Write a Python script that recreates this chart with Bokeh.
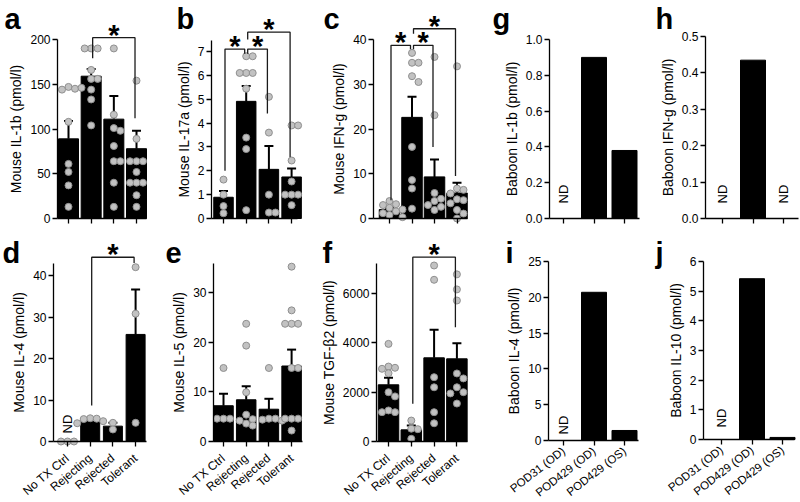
import numpy as np
from bokeh.plotting import figure
from bokeh.layouts import row, column
from bokeh.models import FixedTicker, Range1d, NumeralTickFormatter
from bokeh.core.properties import value
from bokeh.embed import file_html
from bokeh.resources import INLINE

# ---------------- data ----------------
mouse_groups = ["No TX Ctrl", "Rejecting", "Rejected", "Tolerant"]
baboon_groups = ["POD31 (OD)", "POD429 (OD)", "POD429 (OS)"]

# a  Mouse IL-1b
il1b_mean = [89, 159, 111, 78]
il1b_err = [109, 167, 137, 98]
il1b_pts = [[147, 145, 144, 146, 108, 61, 52, 37, 13],
            [190, 190, 190, 166, 156, 156, 144, 133, 104],
            [190, 116, 101, 98, 81, 64, 64, 40, 13],
            [154, 89, 64, 64, 64, 52, 40, 40, 40, 26, 13]]
il1b_ticks = [0, 50, 100, 150, 200]
il1b_sig = [(2, 4, 202, 179, 112)]

# b  Mouse IL-17a
il17a_mean = [0.89, 4.91, 2.06, 1.74]
il17a_err = [1.15, 5.55, 3.04, 2.10]
il17a_pts = [[1.63, 1.0, 0.52, 0.22],
             [6.8, 6.8, 6.1, 6.1, 6.1, 5.44, 3.39, 2.91, 0.35],
             [5.1, 3.6, 1.0, 0.25, 0.25],
             [3.9, 3.9, 2.43, 1.55, 1.0, 1.0, 1.0, 0.56]]
il17a_ticks = [0, 1, 2, 3, 4, 5, 6, 7]
il17a_sig = [(1, 2, 7.1, 2.0, 6.9), (2, 3, 7.1, 6.9, 4.4), (2, 4, 7.81, 7.5, 2.58)]

# c  Mouse IFN-g
ifng_mean = [2.0, 22.6, 9.3, 5.7]
ifng_err = [2.4, 27.2, 13.2, 8.0]
ifng_pts = [[3.9, 3.2, 3.0, 2.4, 2.0, 1.6, 1.2, 0.8, 0.3],
            [37.0, 34.8, 34.8, 31.8, 30.5, 16.0, 8.6, 6.7, 2.2],
            [36.1, 23.1, 5.7, 4.4, 3.9, 3.0, 2.6, 1.9],
            [34.0, 6.7, 6.4, 5.6, 4.3, 4.1, 3.4, 1.9, 1.1, 0.0]]
ifng_ticks = [0, 10, 20, 30, 40]
ifng_sig = [(1, 2, 38.7, 4.1, 37.8), (2, 3, 38.7, 37.8, 16.0), (2, 4, 42.4, 41.3, 9.5)]

# g  Baboon IL-1b  (None = ND)
bab_il1b = [None, 0.90, 0.38]
bab_il1b_ticks = [0, 0.2, 0.4, 0.6, 0.8, 1.0]

# h  Baboon IFN-g
bab_ifng = [None, 0.435, None]
bab_ifng_ticks = [0, 0.1, 0.2, 0.3, 0.4, 0.5]

# d  Mouse IL-4
il4_mean = [None, 4.8, 3.7, 25.8]
il4_err = [None, 5.4, 4.5, 36.6]
il4_pts = [[0, 0, 0],
           [5.6, 5.5, 5.4, 4.9, 4.4],
           [4.5, 2.9],
           [42.0, 30.8, 4.5]]
il4_ticks = [0, 10, 20, 30, 40]
il4_sig = [(2, 4, 44.4, 8.7, 43.0)]

# e  Mouse IL-5
il5_mean = [7.2, 8.4, 6.5, 15.2]
il5_err = [9.6, 11.1, 8.6, 18.5]
il5_pts = [[14.8, 4.6, 4.6, 4.6],
           [23.7, 19.3, 9.9, 5.4, 4.5, 4.2, 3.6, 3.2],
           [14.8, 4.6, 4.6, 4.4, 4.2],
           [35.2, 26.4, 23.7, 23.7, 23.7, 14.8, 14.8, 4.6, 4.6, 4.6, 2.2]]
il5_ticks = [0, 10, 20, 30]

# f  Mouse TGF-b2
tgfb2_mean = [2300, 473, 3395, 3354]
tgfb2_err = [2584, 650, 4530, 3990]
tgfb2_pts = [[3960, 3040, 2990, 2950, 2770, 2000, 1830, 1260, 1190, 1190],
             [850, 520, 500, 110],
             [7140, 6560, 2610, 2200, 1190, 740],
             [6780, 6170, 5720, 2760, 2560, 2200, 2000, 1950, 1540]]
tgfb2_ticks = [0, 2000, 4000, 6000]
tgfb2_sig = [(2, 4, 7477, 1528, 4637)]

# i  Baboon IL-4
bab_il4 = [None, 20.7, 1.4]
bab_il4_ticks = [0, 5, 10, 15, 20, 25]

# j  Baboon IL-10
bab_il10 = [None, 5.42, 0.07]
bab_il10_ticks = [0, 1, 2, 3, 4, 5, 6]

# ---------------- style / layout (pixel geometry of each panel) ----------------
FONT = "Liberation Sans"
MOUSE_XLAB = dict(size="12px", angle=0.70, standoff=10)
BABOON_XLAB = dict(size="11.5px", angle=0.66, standoff=4)


def swarm_offsets(vals, xppu, yppu, step=6.5):
    placed, offs = [], []
    cands = [0.0]
    for k in range(1, 8):
        cands += [k * step, -k * step]
    for v in vals:
        y = v * yppu
        chosen = cands[-1]
        for c in cands:
            if all((c - px) ** 2 + (y - py) ** 2 >= (step * 0.97) ** 2 for px, py in placed):
                chosen = c
                break
        placed.append((chosen, y))
        offs.append(chosen / xppu)
    return offs


def build(s):
    X0, X1, Y0, Y1 = s["rect"]
    t1, sp, zero, ppu = s["tick1"], s["sp"], s["zero"] - Y0, s["ppu"]

    # panel-relative pixel -> data
    def xd(px):
        return 1 + (px - t1) / sp

    def yd(py):
        return (zero - py) / ppu

    W, H = X1 - X0, Y1 - Y0
    p = figure(width=W, height=H, x_range=Range1d(xd(0), xd(W)),
               y_range=Range1d(yd(H), yd(0)), output_backend="svg",
               toolbar_location=None, title=None, min_border=0,
               min_border_left=0, min_border_right=0, min_border_top=0, min_border_bottom=0)
    p.outline_line_color = None
    p.xgrid.visible = False
    p.ygrid.visible = False
    p.background_fill_color = "white"
    p.border_fill_color = "white"

    cats = s["cats"]
    xs = list(range(1, len(cats) + 1))
    means = s["means"]

    bx = [x for x, m in zip(xs, means) if m is not None]
    bt = [m for m in means if m is not None]
    p.vbar(x=bx, top=bt, bottom=0, width=s["barpx"] / sp, fill_color="black", line_color="black")

    if s.get("errs"):
        trip = [(x, m, e) for x, m, e in zip(xs, means, s["errs"]) if m is not None and e is not None]
        ex = [t[0] for t in trip]
        e0 = [t[1] for t in trip]
        e1 = [t[2] for t in trip]
        cap = 4.5 / sp
        p.segment(x0=ex, y0=e0, x1=ex, y1=e1, line_color="black", line_width=2)
        p.segment(x0=[x - cap for x in ex], y0=e1, x1=[x + cap for x in ex], y1=e1,
                  line_color="black", line_width=2)

    nd_x = [x for x, m in zip(xs, means) if m is None]
    if nd_x:
        p.text(x=nd_x, y=[s["nd_lift"] / ppu] * len(nd_x), text=["ND"] * len(nd_x),
               angle=np.pi / 2, text_align="left", text_baseline="middle",
               text_font=value(FONT), text_font_size="13px", text_color="black")

    if s.get("pts"):
        px, py = [], []
        for x, vals in zip(xs, s["pts"]):
            offs = swarm_offsets(vals, sp, ppu)
            px += [x + o for o in offs]
            py += list(vals)
        p.scatter(x=px, y=py, size=7, marker="circle", fill_color="#c2c2c2",
                  line_color="#8f8f8f", line_width=1)

    for (i, j, top, yl, yr) in s.get("sig", []):
        xl = i + 1.5 / sp
        xr = j - 1.5 / sp
        p.line(x=[xl, xl, xr, xr], y=[yl, top, top, yr], line_color="#1a1a1a", line_width=1.3)
        p.text(x=[(xl + xr) / 2], y=[top + 3 / ppu], text=["*"], text_align="center",
               text_baseline="alphabetic", text_font=value(FONT),
               text_font_size="29px", text_font_style="bold", text_color="black")

    # panel letter
    lx, ly = s["letter_at"]
    p.text(x=[xd(lx)], y=[yd(ly - Y0)], text=[s["letter"]], text_align="left",
           text_baseline="alphabetic", text_font=value(FONT), text_font_size="29px",
           text_font_style="bold", text_color="black")

    ya = p.yaxis[0]
    ya.fixed_location = xd(s["axis_x"])
    ya.bounds = (0, s["ybound"])
    ya.ticker = FixedTicker(ticks=s["yticks"])
    if s.get("fmt"):
        ya.formatter = NumeralTickFormatter(format=s["fmt"])
    ya.axis_label = s["ylabel"]
    ya.axis_label_text_font = FONT
    ya.axis_label_text_font_size = "14px"
    ya.axis_label_text_font_style = "normal"
    ya.axis_label_text_color = "black"
    ya.axis_label_standoff = 3
    ya.major_label_text_font = FONT
    ya.major_label_text_font_size = "12px"
    ya.major_label_text_color = "black"
    ya.major_label_standoff = 2
    ya.major_tick_out = 5
    ya.major_tick_in = 0
    ya.minor_tick_line_color = None
    ya.axis_line_width = 1.3
    ya.major_tick_line_width = 1.3

    xa = p.xaxis[0]
    xa.fixed_location = 0
    xa.bounds = (xd(s["axis_x"]), xd(s["x_end"]))
    xa.axis_label = None
    xa.ticker = FixedTicker(ticks=xs)
    xa.major_tick_out = 5
    xa.major_tick_in = 0
    xa.minor_tick_line_color = None
    xa.axis_line_width = 1.3
    xa.major_tick_line_width = 1.3
    xa.major_label_text_font = FONT
    xa.major_label_text_color = "black"
    xl_style = s.get("xlab")
    if xl_style:
        xa.major_label_overrides = {x: c for x, c in zip(xs, cats)}
        xa.major_label_text_font_size = xl_style["size"]
        xa.major_label_orientation = xl_style["angle"]
        xa.major_label_standoff = xl_style["standoff"]
    else:
        xa.major_label_overrides = {x: "" for x in xs}
        xa.major_label_text_font_size = "12px"
        xa.major_label_standoff = 0
    return p


TOP = (0, 226)
BOT = (226, 502)

# rect = (left, right, top, bottom) on the page; axis_x/tick1/x_end panel-relative px,
# zero and letter_at y given as page px
specs_top = [
    dict(letter="a", cats=mouse_groups, means=il1b_mean, errs=il1b_err, pts=il1b_pts,
         ylabel="Mouse IL-1b (pmol/l)", yticks=il1b_ticks, ybound=200, sig=il1b_sig,
         rect=(0, 165) + TOP, axis_x=57, tick1=68, sp=22.67, zero=218, ppu=0.895,
         x_end=146, barpx=20, letter_at=(4, 18), nd_lift=10),
    dict(letter="b", cats=mouse_groups, means=il17a_mean, errs=il17a_err, pts=il17a_pts,
         ylabel="Mouse IL-17a (pmol/l)", yticks=il17a_ticks, ybound=7.45, sig=il17a_sig,
         rect=(165, 318) + TOP, axis_x=46, tick1=58, sp=22.7, zero=218, ppu=23.86,
         x_end=132, barpx=19.5, letter_at=(11, 18), nd_lift=10),
    dict(letter="c", cats=mouse_groups, means=ifng_mean, errs=ifng_err, pts=ifng_pts,
         ylabel="Mouse IFN-g (pmol/l)", yticks=ifng_ticks, ybound=40, sig=ifng_sig,
         rect=(318, 485) + TOP, axis_x=55, tick1=71, sp=22.5, zero=218, ppu=4.475,
         x_end=149, barpx=20.5, letter_at=(5, 18), nd_lift=10),
    dict(letter="g", cats=baboon_groups, means=bab_il1b, errs=None, pts=None,
         ylabel="Baboon IL-1b (pmol/l)", yticks=bab_il1b_ticks, ybound=1.0, fmt="0.0",
         rect=(485, 650) + TOP, axis_x=64, tick1=78, sp=30.5, zero=218, ppu=179,
         x_end=154, barpx=25, letter_at=(7, 18), nd_lift=15),
    dict(letter="h", cats=baboon_groups, means=bab_ifng, errs=None, pts=None,
         ylabel="Baboon IFN-g (pmol/l)", yticks=bab_ifng_ticks, ybound=0.5, fmt="0.0",
         rect=(650, 800) + TOP, axis_x=55, tick1=72, sp=30.5, zero=218, ppu=364,
         x_end=148, barpx=25, letter_at=(5, 18), nd_lift=15),
]

specs_bot = [
    dict(letter="d", cats=mouse_groups, means=il4_mean, errs=il4_err, pts=il4_pts,
         ylabel="Mouse IL-4 (pmol/l)", yticks=il4_ticks, ybound=42.9, sig=il4_sig,
         rect=(0, 160) + BOT, axis_x=53, tick1=67, sp=22.7, zero=441, ppu=4.15,
         x_end=146, barpx=19, letter_at=(2, 252), nd_lift=8, xlab=MOUSE_XLAB),
    dict(letter="e", cats=mouse_groups, means=il5_mean, errs=il5_err, pts=il5_pts,
         ylabel="Mouse IL-5 (pmol/l)", yticks=il5_ticks, ybound=35.8,
         rect=(160, 318) + BOT, axis_x=53, tick1=63, sp=22.7, zero=441, ppu=4.967,
         x_end=142, barpx=19.5, letter_at=(5, 252), nd_lift=8, xlab=MOUSE_XLAB),
    dict(letter="f", cats=mouse_groups, means=tgfb2_mean, errs=tgfb2_err, pts=tgfb2_pts,
         ylabel="Mouse TGF-β2 (pmol/l)", yticks=tgfb2_ticks, ybound=7221, sig=tgfb2_sig,
         rect=(318, 490) + BOT, axis_x=58, tick1=70, sp=22.8, zero=441, ppu=0.02465,
         x_end=149, barpx=20.5, letter_at=(4, 252), nd_lift=8, xlab=MOUSE_XLAB),
    dict(letter="i", cats=baboon_groups, means=bab_il4, errs=None, pts=None,
         ylabel="Baboon IL-4 (pmol/l)", yticks=bab_il4_ticks, ybound=25,
         rect=(490, 650) + BOT, axis_x=58, tick1=73, sp=30.5, zero=440, ppu=7.16,
         x_end=148, barpx=25, letter_at=(15, 252), nd_lift=6, xlab=BABOON_XLAB),
    dict(letter="j", cats=baboon_groups, means=bab_il10, errs=None, pts=None,
         ylabel="Baboon IL-10 (pmol/l)", yticks=bab_il10_ticks, ybound=6,
         rect=(650, 800) + BOT, axis_x=53, tick1=71, sp=30.5, zero=439, ppu=29.67,
         x_end=144, barpx=25, letter_at=(5, 252), nd_lift=12, xlab=BABOON_XLAB),
]

top = row(*[build(s) for s in specs_top], spacing=0)
bot = row(*[build(s) for s in specs_bot], spacing=0)
layout = column(top, bot, spacing=0)

open("out.html", "w").write(file_html(layout, INLINE))
